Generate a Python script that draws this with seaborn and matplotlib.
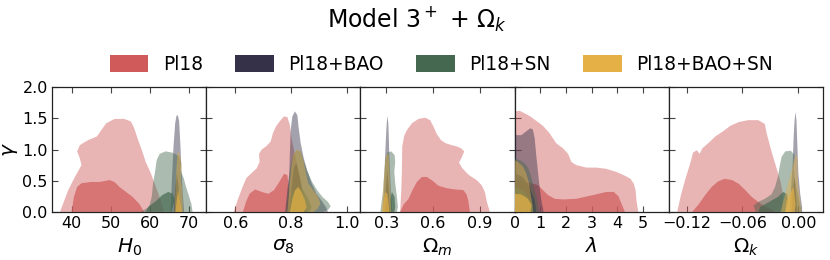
import numpy as np
import pandas as pd
import matplotlib
matplotlib.use("Agg")
import matplotlib.pyplot as plt
from matplotlib.patches import Patch
import seaborn as sns

# ---------------- data: contour outlines (parameter value, gamma) ----------------
SERIES = ["Pl18", "Pl18+BAO", "Pl18+SN", "Pl18+BAO+SN"]
COLORS = ["#d05a5a", "#343148", "#456851", "#e5b046"]
PARAMS = ["H0", "sigma8", "Om", "lam", "Ok"]
XLABELS = [r"$H_0$", r"$\sigma_8$", r"$\Omega_m$", r"$\lambda$", r"$\Omega_k$"]
XTICKS = [[40, 50, 60, 70], [0.6, 0.8, 1.0], [0.3, 0.6, 0.9], [0, 1, 2, 3, 4, 5], [-0.12, -0.06, 0.00]]
XTICKLABELS = [["40", "50", "60", "70"], ["0.6", "0.8", "1.0"], ["0.3", "0.6", "0.9"],
               ["0", "1", "2", "3", "4", "5"], ["\u22120.12", "\u22120.06", "0.00"]]
YTICKS = [0.0, 0.5, 1.0, 1.5, 2.0]

# H0 panel
H0_PL18_OUT = [(37.04, 0), (38.31, 0.21), (39.15, 0.35), (40.85, 0.56), (42.54, 0.75), (42.11, 0.86),
               (41.44, 0.97), (42.11, 1.07), (44.23, 1.15), (46.51, 1.21), (47.61, 1.31), (48.88, 1.42),
               (51.0, 1.49), (53.5, 1.49), (55.2, 1.45), (56.06, 1.34), (56.9, 1.18), (58.0, 0.99),
               (59.0, 0.80), (60.3, 0.62), (61.6, 0.40), (62.8, 0.19), (63.7, 0)]
H0_PL18_IN = [(40.0, 0), (40.6, 0.24), (41.44, 0.40), (42.54, 0.46), (45.07, 0.48), (47.19, 0.48),
              (49.72, 0.51), (51.0, 0.48), (52.26, 0.40), (53.95, 0.32), (55.64, 0.24), (57.33, 0.13), (58.6, 0)]
H0_BAO_OUT = [(65.36, 0), (65.7, 0.51), (66.12, 1.05), (66.54, 1.42), (66.88, 1.54), (67.22, 1.55),
              (67.56, 1.45), (67.9, 1.05), (68.15, 0.67), (68.49, 0.29), (68.82, 0)]
H0_BAO_IN = [(66.2, 0), (66.6, 0.40), (67.0, 0.62), (67.4, 0.40), (67.8, 0)]
H0_SN_OUT = [(57.75, 0), (59.86, 0.08), (60.54, 0.24), (60.88, 0.46), (61.39, 0.64), (61.81, 0.83),
             (62.57, 0.93), (64.09, 0.97), (65.78, 0.95), (67.47, 0.90), (68.15, 0.78), (67.9, 0.67),
             (68.74, 0.54), (69.33, 0.40), (70.0, 0.27), (70.68, 0.13), (71.0, 0)]
H0_SN_IN = [(59.02, 0), (59.61, 0.08), (61.39, 0.16), (63.25, 0.27), (64.77, 0.32), (65.95, 0.29),
            (66.46, 0.19), (65.95, 0.08), (65.6, 0)]
H0_ALL_OUT = [(66.37, 0), (66.63, 0.35), (66.88, 0.72), (67.13, 0.93), (67.47, 0.97), (67.9, 0.87),
              (68.15, 0.71), (67.98, 0.55), (68.32, 0.35), (68.49, 0.13), (68.57, 0)]
H0_ALL_IN = [(66.63, 0), (66.97, 0.19), (67.3, 0.35), (67.64, 0.21), (67.98, 0.08), (68.15, 0)]

# sigma8 panel
S8_PL18_OUT = [(0.594, 0), (0.608, 0.19), (0.624, 0.38), (0.639, 0.54), (0.660, 0.63), (0.677, 0.70),
               (0.687, 0.80), (0.685, 0.93), (0.695, 1.00), (0.713, 1.06), (0.727, 1.13), (0.735, 1.26),
               (0.746, 1.37), (0.761, 1.46), (0.775, 1.53), (0.787, 1.52), (0.796, 1.39), (0.802, 1.18),
               (0.812, 0.97), (0.826, 0.67), (0.838, 0.40), (0.850, 0.19), (0.858, 0)]
S8_PL18_IN = [(0.627, 0), (0.638, 0.16), (0.651, 0.29), (0.671, 0.36), (0.695, 0.32), (0.719, 0.29),
              (0.739, 0.35), (0.758, 0.48), (0.775, 0.61), (0.787, 0.59), (0.794, 0.35), (0.796, 0)]
S8_PL18_DOT = [(0.778, 1.87), (0.780, 1.87), (0.780, 1.89), (0.778, 1.89)]
S8_BAO_OUT = [(0.779, 0), (0.787, 0.35), (0.794, 0.62), (0.796, 0.94), (0.799, 1.31), (0.805, 1.53),
              (0.814, 1.61), (0.823, 1.55), (0.827, 1.37), (0.835, 1.10), (0.846, 0.86), (0.858, 0.67),
              (0.874, 0.46), (0.892, 0.29), (0.910, 0.18), (0.925, 0.08), (0.933, 0)]
S8_BAO_IN = [(0.794, 0), (0.802, 0.40), (0.811, 0.72), (0.820, 0.78), (0.830, 0.59), (0.844, 0.29), (0.856, 0)]
S8_SN_OUT = [(0.782, 0), (0.790, 0.35), (0.796, 0.67), (0.806, 0.88), (0.820, 0.99), (0.835, 0.97),
             (0.846, 0.82), (0.858, 0.66), (0.876, 0.48), (0.894, 0.35), (0.913, 0.24), (0.933, 0.16),
             (0.943, 0.09), (0.933, 0.03), (0.915, 0)]
S8_SN_IN = [(0.792, 0), (0.801, 0.27), (0.820, 0.39), (0.842, 0.36), (0.862, 0.21), (0.874, 0.08), (0.868, 0)]
S8_ALL_OUT = [(0.787, 0), (0.794, 0.35), (0.801, 0.71), (0.808, 0.91), (0.820, 1.00), (0.835, 0.97),
              (0.846, 0.80), (0.854, 0.62), (0.862, 0.46), (0.880, 0.35), (0.898, 0.24), (0.906, 0.13),
              (0.894, 0.04), (0.880, 0)]
S8_ALL_IN = [(0.796, 0), (0.804, 0.19), (0.814, 0.34), (0.826, 0.40), (0.838, 0.32), (0.850, 0.19),
             (0.856, 0.07), (0.846, 0)]

# Omega_m panel
OM_PL18_OUT = [(0.389, 0), (0.396, 0.35), (0.400, 0.67), (0.402, 1.05), (0.415, 1.22), (0.432, 1.31), (0.464, 1.42),
               (0.506, 1.49), (0.549, 1.51), (0.581, 1.47), (0.602, 1.37), (0.623, 1.25), (0.651, 1.15),
               (0.681, 1.10), (0.719, 1.07), (0.751, 1.05), (0.779, 1.02), (0.800, 0.97), (0.783, 0.87),
               (0.766, 0.79), (0.787, 0.70), (0.830, 0.59), (0.879, 0.51), (0.911, 0.43), (0.932, 0.32),
               (0.945, 0.16), (0.964, 0)]
OM_PL18_IN = [(0.389, 0), (0.411, 0.12), (0.443, 0.21), (0.468, 0.35), (0.496, 0.48), (0.528, 0.56),
              (0.560, 0.56), (0.596, 0.50), (0.634, 0.42), (0.687, 0.38), (0.740, 0.36), (0.794, 0.35),
              (0.815, 0.28), (0.826, 0.18), (0.836, 0)]
OM_BAO_OUT = [(0.277, 0), (0.285, 0.35), (0.291, 0.83), (0.300, 1.31), (0.306, 1.54), (0.313, 1.42),
              (0.319, 0.94), (0.326, 0.51), (0.332, 0.19), (0.340, 0)]
OM_BAO_IN = [(0.289, 0), (0.298, 0.40), (0.306, 0.67), (0.315, 0.40), (0.323, 0)]
OM_SN_OUT = [(0.262, 0), (0.268, 0.13), (0.277, 0.29), (0.285, 0.56), (0.294, 0.83), (0.306, 0.95),
             (0.332, 0.97), (0.353, 0.91), (0.357, 0.80), (0.351, 0.64), (0.357, 0.46), (0.368, 0.24),
             (0.374, 0.08), (0.368, 0)]
OM_SN_IN = [(0.315, 0), (0.323, 0.19), (0.336, 0.32), (0.353, 0.24), (0.357, 0.08), (0.353, 0)]
OM_ALL_OUT = [(0.268, 0), (0.277, 0.24), (0.285, 0.56), (0.294, 0.83), (0.304, 0.94), (0.315, 0.91),
              (0.319, 0.72), (0.323, 0.46), (0.328, 0.19), (0.332, 0)]
OM_ALL_IN = [(0.277, 0), (0.283, 0.19), (0.294, 0.32), (0.306, 0.29), (0.315, 0.13), (0.319, 0)]

# lambda panel
LAM_PL18_OUT = [(0, 0), (0, 1.61), (0.195, 1.62), (0.39, 1.58), (0.61, 1.53), (0.84, 1.46), (1.10, 1.38),
                (1.36, 1.26), (1.62, 1.10), (1.88, 1.02), (2.08, 0.93), (2.21, 0.80), (2.40, 0.75),
                (2.79, 0.71), (3.18, 0.71), (3.57, 0.69), (3.96, 0.64), (4.29, 0.58), (4.51, 0.53),
                (4.64, 0.45), (4.71, 0.34), (4.74, 0.19), (4.81, 0)]
LAM_PL18_IN = [(0, 0), (0, 0.46), (0.45, 0.48), (0.91, 0.43), (1.10, 0.35), (1.30, 0.27), (1.56, 0.21),
               (1.88, 0.20), (2.40, 0.21), (3.05, 0.27), (3.57, 0.32), (3.86, 0.32), (4.04, 0.25),
               (4.17, 0.12), (4.29, 0)]
LAM_BAO_OUT = [(0, 0), (0, 1.25), (0.09, 1.23), (0.26, 1.23), (0.45, 1.29), (0.61, 1.34), (0.71, 1.32),
               (0.78, 1.18), (0.84, 0.91), (0.91, 0.64), (0.97, 0.40), (1.04, 0.19), (1.13, 0)]
LAM_BAO_IN = [(0, 0), (0, 0.62), (0.32, 0.56), (0.58, 0.40), (0.78, 0.19), (0.84, 0)]
LAM_SN_OUT = [(0, 0), (0, 0.86), (0.195, 0.83), (0.39, 0.78), (0.52, 0.71), (0.61, 0.61), (0.71, 0.46),
              (0.82, 0.29), (0.91, 0.13), (0.95, 0)]
LAM_SN_IN = [(0, 0), (0, 0.40), (0.32, 0.35), (0.58, 0.21), (0.74, 0.05), (0.71, 0)]
LAM_ALL_OUT = [(0, 0), (0, 0.83), (0.13, 0.80), (0.32, 0.73), (0.45, 0.62), (0.56, 0.46), (0.62, 0.29),
               (0.69, 0.13), (0.71, 0)]
LAM_ALL_IN = [(0, 0), (0, 0.29), (0.26, 0.28), (0.52, 0.21), (0.66, 0.11), (0.61, 0)]

# Omega_k panel
OK_PL18_OUT = [(-0.130, 0), (-0.126, 0.27), (-0.121, 0.54), (-0.116, 0.78), (-0.113, 0.95), (-0.109, 0.99),
               (-0.106, 0.93), (-0.103, 1.02), (-0.096, 1.11), (-0.089, 1.21), (-0.080, 1.30), (-0.073, 1.38),
               (-0.064, 1.44), (-0.054, 1.47), (-0.043, 1.47), (-0.036, 1.41), (-0.034, 1.26), (-0.031, 1.09),
               (-0.028, 0.93), (-0.025, 0.78), (-0.022, 0.63), (-0.019, 0.48), (-0.017, 0.32), (-0.017, 0.16),
               (-0.018, 0)]
OK_PL18_IN = [(-0.114, 0), (-0.107, 0.12), (-0.100, 0.27), (-0.093, 0.40), (-0.086, 0.49), (-0.079, 0.53),
              (-0.071, 0.51), (-0.064, 0.45), (-0.057, 0.35), (-0.050, 0.24), (-0.043, 0.16), (-0.036, 0.09),
              (-0.029, 0.04), (-0.025, 0)]
OK_BAO_OUT = [(-0.009, 0), (-0.008, 0.35), (-0.006, 0.78), (-0.005, 1.21), (-0.004, 1.47), (-0.003, 1.60),
              (-0.002, 1.47), (-0.001, 1.05), (0.000, 0.62), (0.002, 0.29), (0.004, 0.08), (0.004, 0)]
OK_BAO_IN = [(-0.007, 0), (-0.006, 0.35), (-0.004, 0.56), (-0.003, 0.35), (-0.001, 0)]
OK_SN_OUT = [(-0.046, 0), (-0.048, 0.10), (-0.043, 0.16), (-0.036, 0.21), (-0.029, 0.28), (-0.025, 0.40),
             (-0.022, 0.56), (-0.020, 0.73), (-0.018, 0.88), (-0.014, 0.97), (-0.008, 0.98), (-0.004, 0.91),
             (-0.005, 0.71), (-0.004, 0.55), (-0.002, 0.39), (0.000, 0.24), (0.002, 0.11), (0.004, 0)]
OK_SN_IN = [(-0.043, 0), (-0.041, 0.08), (-0.036, 0.12), (-0.029, 0.18), (-0.022, 0.24), (-0.016, 0.32),
            (-0.012, 0.28), (-0.011, 0.14), (-0.014, 0)]
OK_ALL_OUT = [(-0.019, 0), (-0.016, 0.18), (-0.013, 0.34), (-0.010, 0.51), (-0.007, 0.67), (-0.005, 0.80),
              (-0.003, 0.91), (-0.001, 0.87), (-0.001, 0.67), (0.000, 0.40), (0.002, 0.19), (0.003, 0)]
OK_ALL_IN = [(-0.014, 0), (-0.013, 0.16), (-0.009, 0.29), (-0.005, 0.40), (-0.004, 0.27), (-0.003, 0.11),
             (-0.004, 0)]

XLIMS = [(35, 74.5), (0.495, 1.05), (0.134, 1.123), (0, 6.0), (-0.139, 0.0265)]

# ---------------- group outlines per panel ----------------
CONTOURS = {
    "H0": [[H0_PL18_OUT, H0_PL18_IN], [H0_BAO_OUT, H0_BAO_IN], [H0_SN_OUT, H0_SN_IN], [H0_ALL_OUT, H0_ALL_IN]],
    "sigma8": [[S8_PL18_OUT, S8_PL18_IN, S8_PL18_DOT], [S8_BAO_OUT, S8_BAO_IN], [S8_SN_OUT, S8_SN_IN], [S8_ALL_OUT, S8_ALL_IN]],
    "Om": [[OM_PL18_OUT, OM_PL18_IN], [OM_BAO_OUT, OM_BAO_IN], [OM_SN_OUT, OM_SN_IN], [OM_ALL_OUT, OM_ALL_IN]],
    "lam": [[LAM_PL18_OUT, LAM_PL18_IN], [LAM_BAO_OUT, LAM_BAO_IN], [LAM_SN_OUT, LAM_SN_IN], [LAM_ALL_OUT, LAM_ALL_IN]],
    "Ok": [[OK_PL18_OUT, OK_PL18_IN], [OK_BAO_OUT, OK_BAO_IN], [OK_SN_OUT, OK_SN_IN], [OK_ALL_OUT, OK_ALL_IN]],
}

# ---------------- style ----------------
sns.set_theme(style="ticks")
plt.rcParams["font.family"] = ["DejaVu Sans"]
plt.rcParams["mathtext.fontset"] = "dejavusans"
plt.rcParams["text.color"] = "black"
plt.rcParams["axes.labelcolor"] = "black"
plt.rcParams["xtick.color"] = "black"
plt.rcParams["ytick.color"] = "black"
plt.rcParams["axes.edgecolor"] = "black"
plt.rcParams["xtick.direction"] = "in"
plt.rcParams["ytick.direction"] = "in"

fig = plt.figure(figsize=(8.3, 2.6), dpi=100)
axes = fig.subplots(1, 5, sharey=True, gridspec_kw=dict(wspace=0))
fig.subplots_adjust(left=0.0627, right=0.9916, top=0.665, bottom=0.185)

ALPHA_OUT = 0.45
ALPHA_IN = 0.7

for i, (ax, p) in enumerate(zip(axes, PARAMS)):
    for s, (name, col) in enumerate(zip(SERIES, COLORS)):
        polys = CONTOURS[p][s]
        for k, poly in enumerate(polys):
            df = pd.DataFrame(poly, columns=["x", "y"])
            alpha = ALPHA_IN if k == 1 else ALPHA_OUT
            ax.fill(df["x"], df["y"], color=col, alpha=alpha, lw=0, zorder=2 + s)
    ax.set_xlim(*XLIMS[i])
    ax.set_ylim(0, 2.0)
    ax.set_xticks(XTICKS[i])
    ax.set_xticklabels(XTICKLABELS[i])
    ax.set_yticks(YTICKS)
    ax.set_xlabel(XLABELS[i], fontsize=14.5, labelpad=4)
    ax.tick_params(axis="both", which="both", direction="in", top=True, right=True,
                   labelsize=11.5, length=4, width=0.8, pad=3, colors="#444444", labelcolor="black")
    for sp in ax.spines.values():
        sp.set_color("#222222")
        sp.set_linewidth(0.9)
    if i > 0:
        ax.tick_params(labelleft=False)

axes[0].set_yticklabels(["0.0", "0.5", "1.0", "1.5", "2.0"])
axes[0].set_ylabel(r"$\gamma$", fontsize=14.5, labelpad=2)

handles = [Patch(facecolor=c, edgecolor="none") for c in COLORS]
fig.legend(handles, SERIES, loc="center", bbox_to_anchor=(0.532, 0.752), ncol=4, frameon=False,
           fontsize=13.4, handlelength=2.05, handleheight=1.0, handletextpad=0.8, columnspacing=1.75)

fig.text(0.502, 0.925, r"Model 3$^+$ + $\Omega_k$", ha="center", va="center", fontsize=17, color="black")

fig.savefig("out.png", dpi=100)
